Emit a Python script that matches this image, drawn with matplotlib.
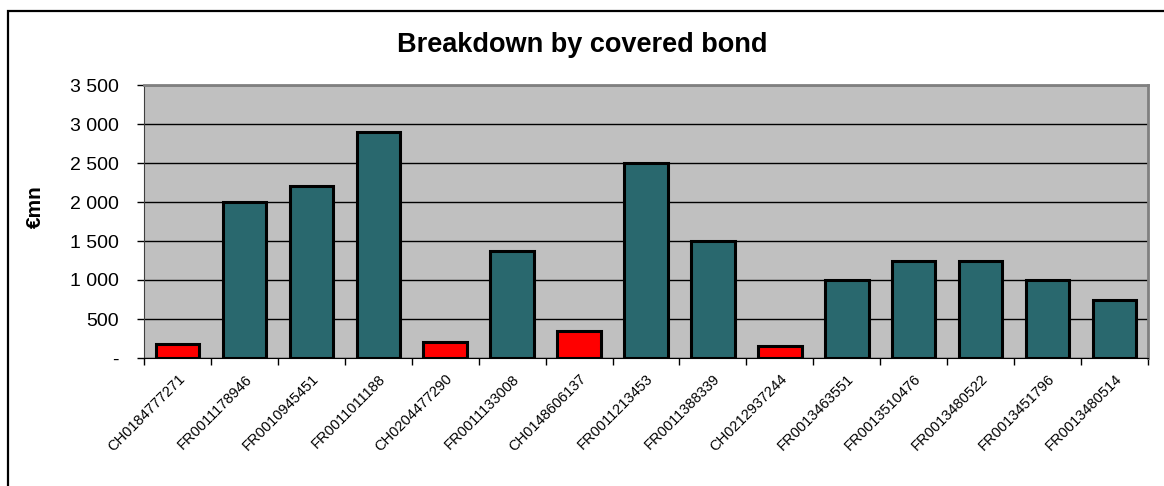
import matplotlib.pyplot as plt
import matplotlib.patches as patches
import numpy as np

plt.rcParams['font.family'] = ['Liberation Sans', 'DejaVu Sans']

bonds = ["CH0184777271", "FR0011178946", "FR0010945451", "FR0011011188",
         "CH0204477290", "FR0011133008", "CH0148606137", "FR0011213453",
         "FR0011388339", "CH0212937244", "FR0013463551", "FR0013510476",
         "FR0013480522", "FR0013451796", "FR0013480514"]
amounts = [175, 2000, 2200, 2900, 200, 1375, 340, 2500,
           1500, 150, 1000, 1250, 1250, 1000, 750]
yticks = [0, 500, 1000, 1500, 2000, 2500, 3000, 3500]
ytick_labels = ["-", "500", "1 000", "1 500", "2 000", "2 500", "3 000", "3 500"]

teal = "#29686E"
red = "#FF0000"
colors = [red if b.startswith("CH") else teal for b in bonds]


def main():
    fig = plt.figure(figsize=(11.64, 4.86), dpi=100)
    ax = fig.add_axes([144/1164, 1-358/486, (1148-144)/1164, (358-85)/486])

    # outer chart frame (runs off the right/bottom edge)
    frame = patches.Rectangle((8/1164, -0.1), 1.1, 1-11/486+0.1,
                              transform=fig.transFigure, fill=False,
                              edgecolor="black", linewidth=1.6)
    fig.patches.append(frame)

    x = np.arange(len(bonds))
    ax.set_facecolor("#C0C0C0")
    ax.set_axisbelow(True)
    ax.grid(axis="y", color="black", linewidth=1)
    ax.bar(x, amounts, width=0.65, color=colors, edgecolor="black", linewidth=2.2, zorder=3)

    ax.set_xlim(-0.5, len(bonds)-0.5)
    ax.set_ylim(0, 3500)
    ax.set_yticks(yticks)
    ax.set_yticklabels(ytick_labels, fontsize=14)
    ax.tick_params(axis="y", length=5, width=1, pad=13)

    ax.set_xticks(x)
    ax.set_xticklabels(bonds, rotation=45, ha="right", rotation_mode="anchor", fontsize=10.5)
    ax.tick_params(axis="x", which="major", length=0, pad=10)
    ax.set_xticks(np.arange(-0.5, len(bonds)), minor=True)
    ax.tick_params(axis="x", which="minor", length=5, width=1)

    for s in ["top", "right"]:
        ax.spines[s].set_color("#808080")
        ax.spines[s].set_linewidth(2)
    ax.spines["left"].set_color("#404040")
    ax.spines["bottom"].set_color("black")

    ax.set_ylabel("€mn", fontsize=15, fontweight="bold")
    ax.yaxis.set_label_coords((45-144)/1004, (358-207)/273)
    fig.text(582/1164, 1-45/486, "Breakdown by covered bond", ha="center", va="center",
             fontsize=19.5, fontweight="bold")

    fig.savefig("out.png", dpi=100)


if __name__ == "__main__":
    main()
